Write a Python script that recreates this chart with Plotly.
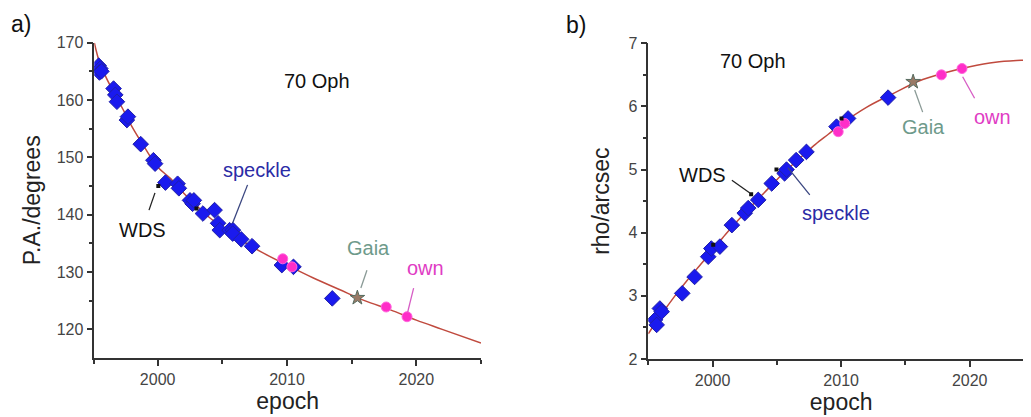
import plotly.graph_objects as go

# ---- panel a) position angle ----
pa_speckle_x = [1995.44, 1995.56, 1995.5, 1995.65, 1996.59, 1996.72, 1996.85, 1997.62, 1997.7,
                1998.69, 1999.67, 1999.8, 2000.6, 2001.54, 2001.64, 2002.5, 2002.7, 2002.8,
                2003.5, 2004.4, 2004.67, 2004.8, 2005.56, 2005.82, 2005.8, 2006.46, 2007.3,
                2009.6, 2010.5, 2013.5]
pa_speckle_y = [166.0, 165.5, 164.8, 165.0, 162.0, 160.9, 159.7, 156.5, 157.1,
                152.3, 149.5, 148.9, 145.6, 145.4, 144.6, 142.5, 141.9, 142.5,
                140.2, 140.8, 138.5, 137.3, 137.3, 137.3, 136.7, 135.7, 134.5,
                131.2, 130.9, 125.4]
pa_own_x = [2009.67, 2010.38, 2017.67, 2019.28]
pa_own_y = [132.3, 130.9, 123.9, 122.2]
pa_wds_x = [2000.05, 2003.0]
pa_wds_y = [145.0, 141.1]
pa_gaia_x = [2015.44]
pa_gaia_y = [125.5]
pa_fit_x = [1995.1, 1995.5, 1996.0, 1996.5, 1997.0, 1997.5, 1998.0, 1999.0, 2000.0, 2001.0,
            2002.0, 2003.0, 2004.0, 2005.0, 2006.0, 2007.0, 2008.0, 2010.0, 2012.0, 2014.0,
            2016.0, 2018.0, 2020.0, 2022.0, 2025.0]
pa_fit_y = [170.0, 166.6, 164.0, 161.8, 159.7, 157.6, 155.4, 151.7, 148.3, 146.3,
            143.8, 141.6, 139.5, 137.8, 136.2, 134.8, 133.5, 131.2, 129.0, 127.0,
            125.0, 123.4, 121.6, 120.0, 117.6]

# ---- panel b) separation ----
rho_speckle_x = [1995.52, 1995.65, 1995.9, 1996.04, 1997.64, 1998.6, 1999.66, 1999.9, 2000.57,
                 2001.5, 2002.5, 2002.77, 2003.55, 2004.6, 2005.6, 2005.75, 2006.5, 2007.3,
                 2009.64, 2010.54, 2013.65]
rho_speckle_y = [2.62, 2.54, 2.80, 2.75, 3.04, 3.30, 3.62, 3.75, 3.78,
                 4.12, 4.31, 4.39, 4.52, 4.78, 4.94, 5.00, 5.15, 5.28,
                 5.68, 5.81, 6.14]
rho_own_x = [2009.77, 2010.28, 2017.8, 2019.4]
rho_own_y = [5.60, 5.73, 6.50, 6.60]
rho_wds_x = [2000.05, 2003.0, 2004.97, 2010.03]
rho_wds_y = [3.81, 4.61, 5.00, 5.81]
rho_gaia_x = [2015.6]
rho_gaia_y = [6.39]
rho_fit_x = [1995.0, 1996.0, 1997.0, 1998.0, 1999.0, 2000.0, 2001.0, 2002.0, 2003.0, 2004.0,
             2005.0, 2006.0, 2007.0, 2008.0, 2009.0, 2010.0, 2012.0, 2014.0, 2016.0, 2018.0,
             2020.0, 2022.0, 2024.0, 2025.0]
rho_fit_y = [2.40, 2.70, 2.98, 3.24, 3.48, 3.72, 3.97, 4.20, 4.42, 4.63,
             4.84, 5.04, 5.22, 5.40, 5.56, 5.72, 5.99, 6.20, 6.40, 6.53,
             6.63, 6.70, 6.73, 6.74]

FONT = "Arial, Liberation Sans, sans-serif"
BLUE = "#1a1aee"
BLUE_EDGE = "#2020a8"
PINK = "#ff2ec8"
FIT = "#c04a3e"
AX = "#333333"

W, H = 1031, 417
OFF = 8  # page body margin


def px(v):
    return (v - OFF) / W


def py(v):
    return 1 - (v - OFF) / H


fig = go.Figure()


def add_panel(xa, ya, fx, fy, sx, sy, ox, oy, wx, wy, gx, gy):
    fig.add_trace(go.Scatter(x=fx, y=fy, mode="lines", line=dict(color=FIT, width=1.5, shape="spline"),
                             xaxis=xa, yaxis=ya, showlegend=False, hoverinfo="skip"))
    fig.add_trace(go.Scatter(x=sx, y=sy, mode="markers",
                             marker=dict(symbol="diamond", size=12, color=BLUE,
                                         line=dict(color=BLUE_EDGE, width=1)),
                             xaxis=xa, yaxis=ya, showlegend=False))
    fig.add_trace(go.Scatter(x=ox, y=oy, mode="markers",
                             marker=dict(symbol="circle", size=10, color=PINK,
                                         line=dict(color="#ff66dd", width=1)),
                             xaxis=xa, yaxis=ya, showlegend=False))
    fig.add_trace(go.Scatter(x=wx, y=wy, mode="markers",
                             marker=dict(symbol="square", size=4, color="#111111"),
                             xaxis=xa, yaxis=ya, showlegend=False))
    fig.add_trace(go.Scatter(x=gx, y=gy, mode="markers",
                             marker=dict(symbol="star", size=11, color="#9a7a66",
                                         line=dict(color="#556b5f", width=1)),
                             xaxis=xa, yaxis=ya, showlegend=False))


add_panel("x", "y", pa_fit_x, pa_fit_y, pa_speckle_x, pa_speckle_y, pa_own_x, pa_own_y,
          pa_wds_x, pa_wds_y, pa_gaia_x, pa_gaia_y)
add_panel("x2", "y2", rho_fit_x, rho_fit_y, rho_speckle_x, rho_speckle_y, rho_own_x, rho_own_y,
          rho_wds_x, rho_wds_y, rho_gaia_x, rho_gaia_y)

axis_common = dict(showline=True, linecolor=AX, linewidth=1.5, ticks="outside", ticklen=6,
                   tickwidth=1.5, tickcolor=AX, showgrid=False, zeroline=False, mirror=False,
                   automargin=False,
                   tickfont=dict(family=FONT, size=16, color="#444444"),
                   title_font=dict(family=FONT, size=23, color="#222222"))

fig.update_layout(
    width=W, height=H,
    margin=dict(l=0, r=0, t=0, b=0),
    paper_bgcolor="white", plot_bgcolor="white",
    xaxis=dict(domain=[px(94.3), px(481)], range=[1995.1, 2025], anchor="y",
               tickvals=[2000, 2010, 2020], title=dict(text="epoch", standoff=0),
               minor=dict(tickvals=[1995.1, 2005, 2015, 2025], ticklen=4, tickcolor=AX, ticks="outside"),
               **axis_common),
    yaxis=dict(domain=[py(358), py(42.7)], range=[115, 170], anchor="x",
               tickvals=[120, 130, 140, 150, 160, 170], title=dict(text="P.A./degrees", standoff=10),
               minor=dict(tickvals=[125, 135, 145, 155, 165], ticklen=4, tickcolor=AX, ticks="outside"),
               **axis_common),
    xaxis2=dict(domain=[px(648.3), px(1034)], range=[1995, 2025], anchor="y2",
                tickvals=[2000, 2010, 2020], title=dict(text="epoch", standoff=0),
                minor=dict(tickvals=[1995, 2005, 2015], ticklen=4, tickcolor=AX, ticks="outside"),
                **axis_common),
    yaxis2=dict(domain=[py(359), py(43.3)], range=[2, 7], anchor="x2",
                tickvals=[2, 3, 4, 5, 6, 7], title=dict(text="rho/arcsec", standoff=12),
                minor=dict(tickvals=[2.5, 3.5, 4.5, 5.5, 6.5], ticklen=4, tickcolor=AX, ticks="outside"),
                **axis_common),
)


def label(text, x, y, xref, yref, color, size=20, yanchor="middle"):
    fig.add_annotation(text=text, x=x, y=y, xref=xref, yref=yref, showarrow=False,
                       xanchor="center", yanchor=yanchor,
                       font=dict(family=FONT, size=size, color=color))


def leader(x0, y0, x1, y1, xref, yref, color):
    fig.add_shape(type="line", x0=x0, y0=y0, x1=x1, y1=y1, xref=xref, yref=yref,
                  line=dict(color=color, width=1.3))


# panel letters
label("a)", px(21), py(9), "paper", "paper", "#111111", size=23, yanchor="top")
label("b)", px(576), py(10), "paper", "paper", "#111111", size=23, yanchor="top")

# panel a annotations
label("70 Oph", 2012.34, 163.3, "x", "y", "#111111")
label("speckle", 2007.7, 147.8, "x", "y", "#2b2ba6")
label("WDS", 1998.8, 137.3, "x", "y", "#111111")
label("Gaia", 2016.3, 134.2, "x", "y", "#6e9a8b")
label("own", 2020.7, 130.7, "x", "y", "#e03cc4")
leader(1999.33, 140.8, 1999.79, 143.8, "x", "y", "#222222")
leader(2005.79, 138.5, 2006.95, 145.2, "x", "y", "#3a4680")
leader(2015.71, 127.2, 2016.18, 130.3, "x", "y", "#8a9a96")
leader(2019.33, 123.0, 2019.79, 127.2, "x", "y", "#d65cc4")

# panel b annotations
label("70 Oph", 2003.13, 6.72, "x2", "y2", "#111111")
label("WDS", 1999.22, 4.91, "x2", "y2", "#111111")
label("speckle", 2009.63, 4.31, "x2", "y2", "#2b2ba6")
label("Gaia", 2016.42, 5.67, "x2", "y2", "#6e9a8b")
label("own", 2021.78, 5.83, "x2", "y2", "#e03cc4")
leader(2001.5, 4.83, 2002.9, 4.63, "x2", "y2", "#222222")
leader(2005.85, 5.03, 2007.56, 4.60, "x2", "y2", "#3a4680")
leader(2015.72, 6.26, 2016.34, 5.91, "x2", "y2", "#8a9a96")
leader(2019.45, 6.47, 2020.38, 6.13, "x2", "y2", "#d65cc4")

fig.write_html("out.html")
